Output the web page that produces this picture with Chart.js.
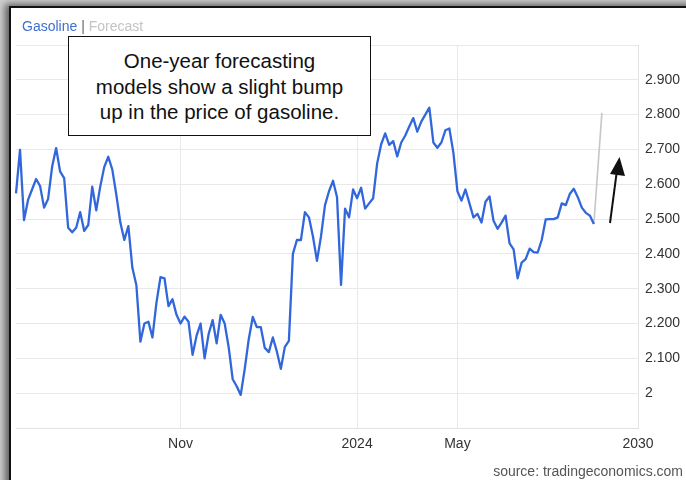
<!DOCTYPE html>
<html>
<head>
<meta charset="utf-8">
<script src="https://cdn.jsdelivr.net/npm/chart.js@4.4.1/dist/chart.umd.min.js"></script>
<style>
  html, body { margin: 0; padding: 0; background: #ffffff; }
  #wrap { position: relative; width: 686px; height: 480px; overflow: hidden; background: #cfcfcf; }
  #frame { position: absolute; left: 9px; top: 6px; width: 700px; height: 500px; background: #fff;
           border-left: 2px solid #111; border-top: 2px solid #111;
           box-shadow: -4px -2px 7px rgba(0,0,0,0.55); }
  #chart { position: absolute; left: 0; top: 0; }
  #legend { position: absolute; left: 22px; top: 18px; font: 14px "Liberation Sans", Arial, sans-serif; }
  #legend .g { color: #3f6fcf; }
  #legend .s { color: #666; }
  #legend .f { color: #c4c4c4; }
  #note { position: absolute; left: 68px; top: 36px; width: 303px; height: 100px; background: #fff;
          border: 1.5px solid #111; font: 20.5px "Liberation Sans", Arial, sans-serif; color: #111;
          text-align: center; line-height: 25.5px; padding-top: 11px; box-sizing: border-box; }
  #source { position: absolute; right: 3px; top: 463px; font: 14px "Liberation Sans", Arial, sans-serif; color: #555; }
  #arrow { position: absolute; left: 0; top: 0; }
</style>
</head>
<body>
<div id="wrap">
  <div id="frame"></div>
  <canvas id="chart" width="686" height="480"></canvas>
  <div id="legend"><span class="g">Gasoline</span> <span class="s">|</span> <span class="f">Forecast</span></div>
  <div id="note">One-year forecasting<br>models show a slight bump<br>up in the price of gasoline.</div>
  <svg id="arrow" width="686" height="480">
    <line x1="610" y1="223" x2="617" y2="170" stroke="#111" stroke-width="2"/>
    <polygon points="619.5,157 610,174 625,176" fill="#111"/>
  </svg>
  <div id="source">source: tradingeconomics.com</div>
</div>
<script>
// ---- data ----
const categories = Array.from({ length: 156 }, (_, i) => i);

const gasoline = [
  2.574, 2.699, 2.497, 2.555, 2.585, 2.615, 2.595, 2.533, 2.558, 2.650,
  2.704, 2.636, 2.618, 2.475, 2.462, 2.475, 2.520, 2.466, 2.483, 2.593,
  2.525, 2.594, 2.650, 2.679, 2.642, 2.570, 2.490, 2.440, 2.480, 2.360,
  2.310, 2.148, 2.200, 2.205, 2.160, 2.260, 2.333, 2.330, 2.250, 2.270,
  2.225, 2.200, 2.220, 2.205, 2.110, 2.165, 2.200, 2.100, 2.170, 2.210,
  2.143, 2.225, 2.200, 2.132, 2.040, 2.020, 1.995, 2.070, 2.155, 2.219,
  2.190, 2.190, 2.130, 2.118, 2.160, 2.120, 2.070, 2.133, 2.150, 2.400,
  2.440, 2.440, 2.520, 2.505, 2.450, 2.380, 2.450, 2.540, 2.580, 2.610,
  2.563, 2.311, 2.530, 2.505, 2.585, 2.560, 2.590, 2.530, 2.545, 2.560,
  2.660, 2.715, 2.746, 2.713, 2.724, 2.680, 2.720, 2.740, 2.766, 2.790,
  2.751, 2.780, 2.800, 2.820, 2.720, 2.705, 2.720, 2.755, 2.760, 2.690,
  2.580, 2.553, 2.585, 2.545, 2.505, 2.515, 2.490, 2.550, 2.565, 2.495,
  2.472, 2.490, 2.510, 2.430, 2.413, 2.330, 2.375, 2.385, 2.415, 2.405,
  2.404, 2.440, 2.499, 2.500, 2.500, 2.505, 2.545, 2.540, 2.572, 2.587,
  2.563, 2.533, 2.518, 2.510, 2.486
];

const forecastIndex = [144, 146];
const forecastValue = [2.486, 2.805];

const xTickIndex = [41, 85, 110, 155];
const xTickLabels = ['Nov', '2024', 'May', '2030'];

const yTickValues = [1.9, 2.0, 2.1, 2.2, 2.3, 2.4, 2.5, 2.6, 2.7, 2.8, 2.9, 3.0];
const yTickLabels = ['', '2', '2.100', '2.200', '2.300', '2.400', '2.500', '2.600', '2.700', '2.800', '2.900', ''];

// ---- build ----
const forecastData = categories.map(() => null);
forecastIndex.forEach((idx, k) => { forecastData[idx] = forecastValue[k]; });

const gridColor = '#e9e9e9';
const tickFont = { family: '"Liberation Sans", Arial, sans-serif', size: 14 };

new Chart(document.getElementById('chart'), {
  type: 'line',
  data: {
    labels: categories,
    datasets: [
      { label: 'Gasoline', data: gasoline, borderColor: '#3267dc', borderWidth: 2.3,
        pointRadius: 0, tension: 0, borderJoinStyle: 'round', fill: false },
      { label: 'Forecast', data: forecastData, borderColor: '#c6c6c6', borderWidth: 1.6,
        pointRadius: 0, tension: 0, spanGaps: true, fill: false }
    ]
  },
  options: {
    responsive: false,
    animation: false,
    devicePixelRatio: 1,
    layout: { padding: { left: 16, top: 45, right: 0, bottom: 0 } },
    plugins: { legend: { display: false }, tooltip: { enabled: false } },
    scales: {
      x: {
        type: 'category',
        offset: false,
        afterBuildTicks: (s) => { s.ticks = xTickIndex.map(v => ({ value: v })); },
        afterFit: (s) => { s.height = 52; },
        grid: { color: gridColor, drawTicks: false },
        border: { color: '#e2e2e2' },
        ticks: {
          autoSkip: false, maxRotation: 0, padding: 8, color: '#333', font: tickFont,
          callback: (v) => xTickLabels[xTickIndex.indexOf(v)]
        }
      },
      y: {
        position: 'right',
        min: 1.9, max: 3.0,
        afterBuildTicks: (s) => { s.ticks = yTickValues.map(v => ({ value: v })); },
        afterFit: (s) => { s.width = 48; },
        grid: { color: gridColor, drawTicks: false },
        border: { color: '#e2e2e2' },
        ticks: {
          padding: 7, color: '#333', font: tickFont,
          callback: (v) => { const k = yTickValues.findIndex(t => Math.abs(t - v) < 1e-6); return k >= 0 ? yTickLabels[k] : ''; }
        }
      }
    }
  }
});
</script>
</body>
</html>
